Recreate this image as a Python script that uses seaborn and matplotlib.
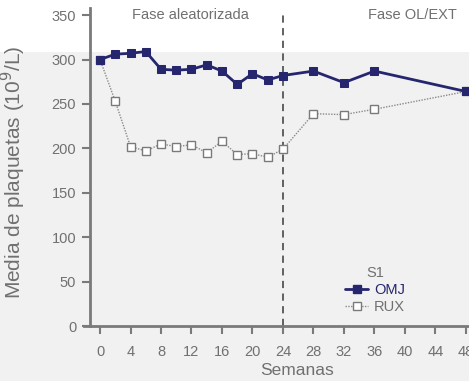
import matplotlib
matplotlib.use("Agg")
import matplotlib.pyplot as plt
from matplotlib.patches import Rectangle
from matplotlib.lines import Line2D
import seaborn as sns
import pandas as pd

# Platelet means by week for each arm
weeks = [0, 2, 4, 6, 8, 10, 12, 14, 16, 18, 20, 22, 24, 28, 32, 36, 48]
omj = [300, 306, 307, 309, 289, 288, 289, 294, 287, 272, 284, 277, 282, 287, 274, 287, 264]
rux = [300, 253, 202, 197, 205, 202, 204, 195, 208, 193, 194, 190, 199, 239, 238, 244, 264]
x_ticks = list(range(0, 49, 4))
y_ticks = list(range(0, 351, 50))

navy = "#26266e"
grey_text = "#707070"
axis_grey = "#7a7a7a"

sns.set_theme(style="white")
plt.rcParams["font.family"] = ["Liberation Sans", "DejaVu Sans"]

fig = plt.figure(figsize=(4.69, 3.81), dpi=100)
fig.patch.set_facecolor("white")
fig.patches.append(Rectangle((0, 0), 1, 1 - 52 / 381, transform=fig.transFigure,
                             facecolor="#f1f1f1", edgecolor="none", zorder=-10))

ax = fig.add_axes([84 / 469, 55 / 381, 385 / 469, 318 / 381])
ax.set_facecolor("none")

df_omj = pd.DataFrame({"Semana": weeks, "Plaquetas": omj})
df_rux = pd.DataFrame({"Semana": weeks, "Plaquetas": rux})

sns.lineplot(data=df_rux, x="Semana", y="Plaquetas", ax=ax, color="#8a8a8a",
             linestyle=(0, (1, 1)), linewidth=1.0, marker="s", markersize=6,
             markerfacecolor="white", markeredgecolor="#7a7a7a", markeredgewidth=1.0,
             clip_on=False, zorder=3)
sns.lineplot(data=df_omj, x="Semana", y="Plaquetas", ax=ax, color=navy,
             linewidth=2.0, marker="s", markersize=6, markerfacecolor=navy,
             markeredgecolor=navy, clip_on=False, zorder=4)

ax.axvline(24, ymin=0, ymax=350 / 358, color="#555555", linestyle=(0, (4, 3)),
           linewidth=1.3, zorder=2)

ax.set_xlim(-2.1, 48.4)
ax.set_ylim(0, 358)
ax.set_xticks(x_ticks)
ax.set_yticks(y_ticks)
ax.tick_params(axis="both", colors=axis_grey, labelcolor=grey_text, labelsize=10.5,
               length=6, width=1.5, direction="out", bottom=True, left=True, pad=4)
ax.tick_params(axis="x", pad=8)

for side in ["top", "right"]:
    ax.spines[side].set_visible(False)
for side in ["left", "bottom"]:
    ax.spines[side].set_color(axis_grey)
    ax.spines[side].set_linewidth(2.0)
# y axis sits slightly right of where the x axis starts
ax.spines["left"].set_position(("data", -1.3))

ax.set_xlabel("Semanas", color=grey_text, fontsize=12.5, labelpad=2)
ax.xaxis.set_label_coords((297 - 84) / 385, -0.115)
ax.set_ylabel("Media de plaquetas (10$^9$/L)", color=grey_text, fontsize=15, labelpad=8)
ax.yaxis.set_label_coords(-(84 - 28) / 385, (326 - 172) / 318)

fig.text(190 / 469, 1 - 15 / 381, "Fase aleatorizada", color=grey_text, fontsize=10.5,
         ha="center", va="center")
fig.text(412 / 469, 1 - 15 / 381, "Fase OL/EXT", color=grey_text, fontsize=10.5,
         ha="center", va="center")

handles = [
    Line2D([], [], color=navy, linewidth=2.0, marker="s", markersize=5.5,
           markerfacecolor=navy, markeredgecolor=navy),
    Line2D([], [], color="#8a8a8a", linestyle=(0, (1, 1)), linewidth=1.0, marker="s",
           markersize=5.5, markerfacecolor="white", markeredgecolor="#7a7a7a"),
]
leg = ax.legend(handles, ["OMJ", "RUX"], title="S1", loc="center",
                bbox_to_anchor=((375 - 84) / 385, (326 - 290) / 318),
                frameon=False, fontsize=10.5, title_fontsize=10.5,
                handlelength=1.6, handletextpad=0.4, labelspacing=0.2,
                borderpad=0.2)
leg.get_title().set_color(grey_text)
leg.get_texts()[0].set_color(navy)
leg.get_texts()[1].set_color(grey_text)

fig.savefig("out.png", dpi=100)
